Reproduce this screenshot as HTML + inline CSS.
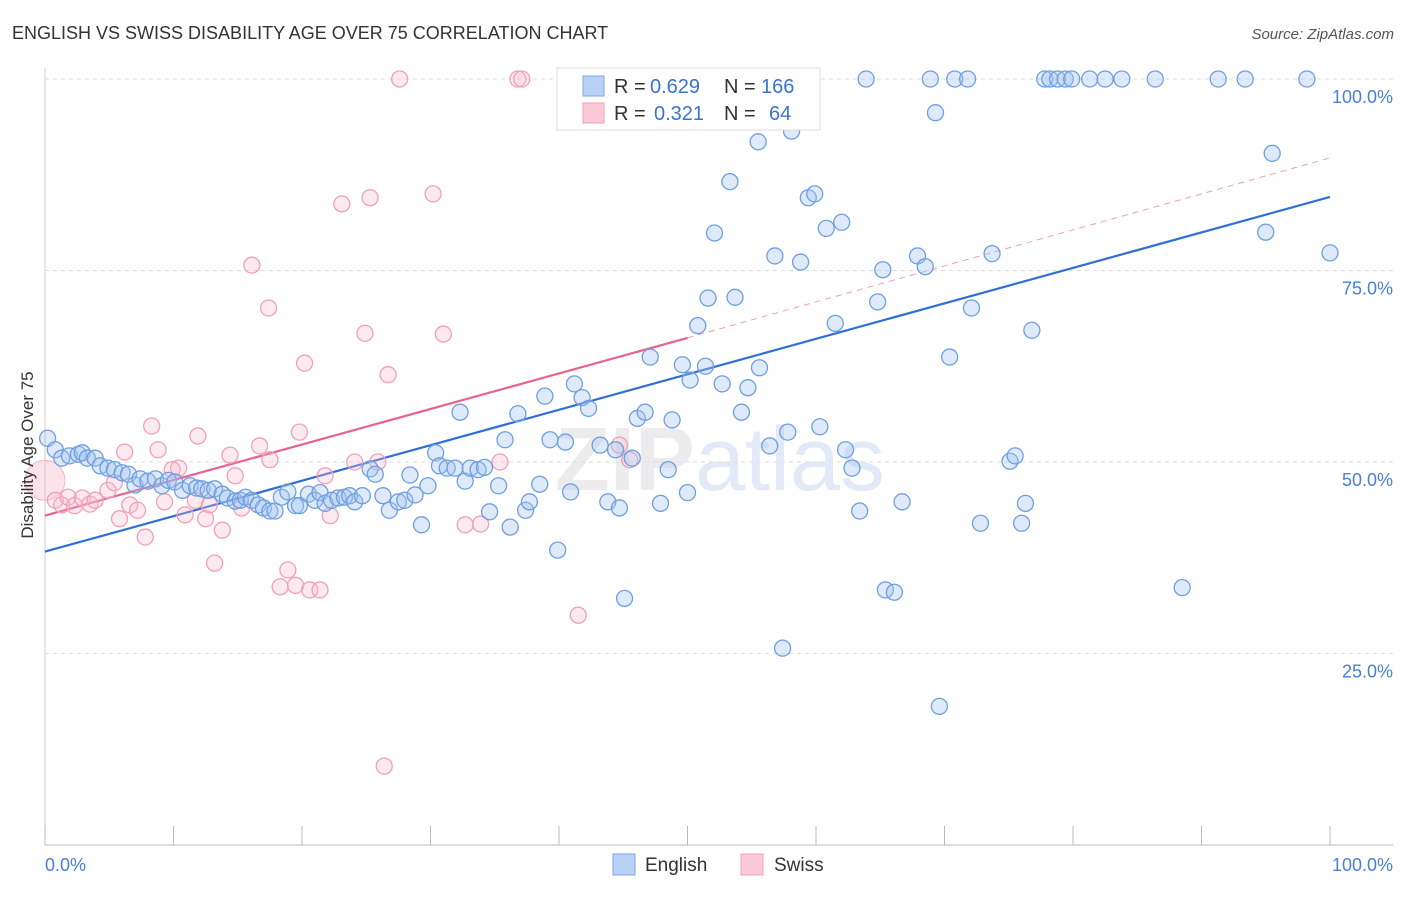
<!DOCTYPE html>
<html><head><meta charset="utf-8"><style>
body{margin:0;background:#fff;font-family:"Liberation Sans",sans-serif;}
svg text{font-family:"Liberation Sans",sans-serif;}
</style></head><body>
<svg id="chart" width="1406" height="892" xmlns="http://www.w3.org/2000/svg">
<text x="12" y="39" font-size="18" fill="#333">ENGLISH VS SWISS DISABILITY AGE OVER 75 CORRELATION CHART</text>
<text x="1394" y="39" font-size="15" fill="#555" text-anchor="end" font-style="italic">Source: ZipAtlas.com</text>
<text x="720" y="490" font-size="90" fill="#ececef" text-anchor="middle" font-weight="bold">ZIP<tspan fill="#e2eaf7" font-weight="normal">atlas</tspan></text>
<g id="grid"></g>
<g id="axes"></g>
<g id="trends"></g>
<g id="pts"></g>
<text transform="translate(33,455) rotate(-90)" font-size="17" fill="#333" text-anchor="middle">Disability Age Over 75</text>
<g>
<rect x="557" y="68" width="263" height="62" fill="#fff" stroke="#ddd"/>
<rect x="583" y="76" width="21" height="20" fill="#b8d2f5" stroke="#7ea7e6"/>
<rect x="583" y="103" width="21" height="20" fill="#fbc9d8" stroke="#f0a0b8"/>
<text x="614" y="93" font-size="20" fill="#333">R =</text>
<text x="650" y="93" font-size="20" fill="#3a72d0">0.629</text>
<text x="724" y="93" font-size="20" fill="#333">N =</text>
<text x="761" y="93" font-size="20" fill="#3a72d0">166</text>
<text x="614" y="120" font-size="20" fill="#333">R =</text>
<text x="654" y="120" font-size="20" fill="#3a72d0">0.321</text>
<text x="724" y="120" font-size="20" fill="#333">N =</text>
<text x="769" y="120" font-size="20" fill="#3a72d0">64</text>
</g>
<g>
<rect x="613" y="854" width="22" height="21" fill="#b8d2f5" stroke="#7ea7e6"/>
<text x="645" y="871" font-size="19" fill="#333">English</text>
<rect x="741" y="854" width="22" height="21" fill="#fbc9d8" stroke="#f0a0b8"/>
<text x="774" y="871" font-size="19" fill="#333">Swiss</text>
</g>
</svg>
<script>
const yTicks=[25,50,75,100];
const yTickLabels=["25.0%","50.0%","75.0%","100.0%"];
const xTickLabels=["0.0%","100.0%"];
const blueTrend=[38.3,84.6];
const pinkTrend=[43.0,66.2,89.7];
const englishX=[0.2,0.8,1.3,1.9,2.6,2.9,3.3,3.9,4.3,4.9,5.4,6.0,6.5,7.0,7.4,8.0,8.6,9.1,9.6,10.1,10.7,11.3,11.8,12.2,12.7,13.2,13.8,14.2,14.8,15.2,15.6,16.1,16.6,17.0,17.5,17.9,18.4,18.9,19.5,19.8,20.5,21.0,21.4,21.8,22.3,22.8,23.3,23.7,24.1,24.7,25.3,25.7,26.3,26.8,27.5,28.0,28.4,28.8,29.3,29.8,30.4,30.7,31.3,31.9,32.3,32.7,33.1,33.7,34.2,34.6,35.3,35.8,36.2,36.8,37.4,37.7,38.5,38.9,39.3,39.9,40.5,40.9,41.2,41.8,42.3,43.2,43.8,44.4,44.7,45.1,45.7,46.1,46.7,47.1,47.9,48.5,48.8,49.6,50.0,50.2,50.8,51.4,51.6,52.1,52.7,53.3,53.7,54.2,54.7,55.5,55.6,56.4,56.8,57.4,57.8,58.1,58.8,59.4,59.9,60.3,60.8,61.5,62.0,62.3,62.8,63.4,63.9,64.8,65.2,65.4,66.1,66.7,67.9,68.5,68.9,69.3,69.6,70.4,70.8,71.8,72.1,72.8,73.7,75.1,75.5,76.0,76.3,76.8,77.8,78.2,78.8,79.4,79.9,81.3,82.5,83.8,86.4,88.5,91.3,93.4,95.0,95.5,98.2,100];
const englishY=[53.1,51.6,50.5,50.8,51.0,51.2,50.5,50.5,49.5,49.2,49.0,48.6,48.4,47.0,47.8,47.5,47.8,46.9,47.6,47.4,46.3,46.9,46.6,46.5,46.3,46.5,45.8,45.3,44.9,45.0,45.4,45.0,44.4,44.0,43.6,43.6,45.4,46.1,44.3,44.3,45.8,45.0,46.0,44.6,45.0,45.3,45.4,45.6,44.8,45.6,49.1,48.4,45.6,43.7,44.8,45.0,48.3,45.7,41.8,46.9,51.2,49.5,49.2,49.2,56.5,47.5,49.2,49.0,49.3,43.5,46.9,52.9,41.5,56.3,43.7,44.8,47.1,58.6,52.9,38.5,52.6,46.1,60.2,58.4,57.0,52.2,44.8,51.6,44.0,32.2,50.5,55.7,56.5,63.7,44.6,49.0,55.5,62.7,46.0,60.7,67.8,62.5,71.4,79.9,60.2,86.6,71.5,56.5,59.7,91.8,62.3,52.1,76.9,25.7,53.9,93.2,76.1,84.5,85.0,54.6,80.5,68.1,81.3,51.6,49.2,43.6,100,70.9,75.1,33.3,33.0,44.8,76.9,75.5,100,95.6,18.1,63.7,100,100,70.1,42.0,77.2,50.1,50.8,42.0,44.6,67.2,100,100,100,100,100,100,100,100,100,33.6,100,100,80.0,90.3,100,77.3];
const swissX=[0.8,1.3,1.8,2.3,2.9,3.5,3.9,4.9,5.4,5.8,6.2,6.6,7.2,7.8,8.3,8.8,9.3,9.9,10.4,10.9,11.7,11.9,12.5,12.8,13.2,13.8,14.4,14.8,15.3,16.1,16.7,17.5,17.4,18.3,18.9,19.5,19.8,20.2,20.6,21.4,21.8,22.2,23.1,24.1,24.9,25.3,25.9,26.7,26.4,27.6,30.2,31.0,32.7,33.9,35.4,36.8,37.1,41.5,44.7,45.5];
const swissY=[45.0,44.4,45.4,44.3,45.3,44.5,45.0,46.3,47.3,42.6,51.3,44.4,43.7,40.2,54.7,51.6,44.8,49.0,49.2,43.1,45.0,53.4,42.6,44.4,36.8,41.1,50.9,48.2,44.0,75.7,52.1,50.3,70.1,33.7,35.9,33.9,53.9,62.9,33.3,33.3,48.2,43.0,83.7,50.0,66.8,84.5,50.0,61.4,10.3,100,85.0,66.7,41.8,41.9,50.0,100,100,30.0,52.2,50.3];
const NS="http://www.w3.org/2000/svg";
const X=v=>45+v*12.85, Y=v=>845-v*7.66;
function mk(t,a,p){const e=document.createElementNS(NS,t);for(const k in a)e.setAttribute(k,a[k]);p.appendChild(e);return e;}
const grid=document.getElementById('grid'),axes=document.getElementById('axes'),tr=document.getElementById('trends'),pts=document.getElementById('pts');
yTicks.forEach((v,i)=>{
 const l=mk('line',{x1:45,x2:1393,y1:Y(v),y2:Y(v),stroke:'#ddd','stroke-dasharray':'4,4'},grid);
 
 
 const t=mk('text',{x:1393,y:Y(v)+24,'font-size':18,fill:'#4a7fd4','text-anchor':'end'},axes);
 t.textContent=yTickLabels[i];
 
 
});
const xa=mk('line',{x1:45,x2:1393,y1:845,y2:845,stroke:'#bbb'},axes);


const ya=mk('line',{x1:45,x2:45,y1:68,y2:845,stroke:'#ccc'},axes);


for(let i=0;i<=10;i++){const t=mk('line',{x1:X(i*10),x2:X(i*10),y1:826,y2:845,stroke:'#bbb'},axes);
 
 }
[[0,'start',45],[1,'end',1393]].forEach(([i,a,x])=>{const t=mk('text',{x:x,y:871,'font-size':18,fill:'#4a7fd4','text-anchor':a},axes);t.textContent=xTickLabels[i];
 
 });
const pd=mk('line',{x1:X(50),y1:Y(pinkTrend[1]),x2:X(100),y2:Y(pinkTrend[2]),stroke:'#eea0b8','stroke-dasharray':'6,5','stroke-width':1},tr);


function dot(x,y,r,f,s,n){const c=mk('circle',{cx:X(x),cy:Y(y),r:r,fill:f,stroke:s,'stroke-width':1.3},pts);
 
 }
const pb=mk('circle',{cx:X(0),cy:Y(47.6),r:20,fill:'rgba(248,185,205,0.4)',stroke:'#f3b5c8'},pts);


swissX.forEach((x,i)=>dot(x,swissY[i],8,'rgba(248,185,205,0.3)','#f0a0b8','swiss-point'));
englishX.forEach((x,i)=>dot(x,englishY[i],8,'rgba(160,195,240,0.35)','#6f9fe0','english-point'));
const bl=mk('line',{x1:X(0),y1:Y(blueTrend[0]),x2:X(100),y2:Y(blueTrend[1]),stroke:'#2f6fd6','stroke-width':2.2},tr);


const pl=mk('line',{x1:X(0),y1:Y(pinkTrend[0]),x2:X(50),y2:Y(pinkTrend[1]),stroke:'#e8648e','stroke-width':2.2},tr);


</script>
</body></html>
